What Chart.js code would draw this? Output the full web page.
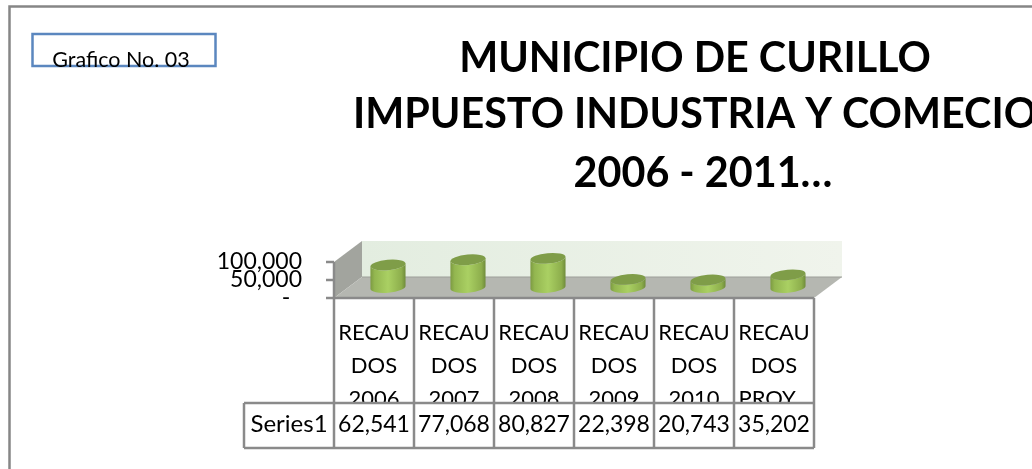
<!DOCTYPE html>
<html><head><meta charset="utf-8">
<style>html,body{margin:0;padding:0;background:#fff}#w{width:1032px;height:469px;position:relative}</style>
<script src="https://cdn.jsdelivr.net/npm/chart.js@4"></script></head>
<body><div id="w"><canvas id="c" width="1032" height="469"></canvas></div>
<script>
const categories=[["RECAU","DOS","2006"],["RECAU","DOS","2007"],["RECAU","DOS","2008"],["RECAU","DOS","2009"],["RECAU","DOS","2010"],["RECAU","DOS","PROY..."]];
const seriesName="Series1";
const values=[62541,77068,80827,22398,20743,35202];
const titleLines=["MUNICIPIO DE CURILLO","IMPUESTO INDUSTRIA Y COMECIO","2006 - 2011…"];
const noteText="Grafico No. 03";
const FONT="Lato, Carlito, sans-serif";
const DX=28,DY=21,GREY="#8a8a8a";

const scene={id:'scene',
 beforeDatasetsDraw(ch){
  const {ctx,chartArea:a}=ch;
  ctx.save();
  let g=ctx.createLinearGradient(a.left+DX,0,a.right+DX,0);
  g.addColorStop(0,'#e3ede0');g.addColorStop(1,'#f0f4ec');
  ctx.fillStyle=g;ctx.fillRect(a.left+DX,a.top-DY,a.right-a.left,a.bottom-a.top);
  ctx.fillStyle='#a2a49e';
  ctx.beginPath();ctx.moveTo(a.left,a.top);ctx.lineTo(a.left+DX,a.top-DY);ctx.lineTo(a.left+DX,a.bottom-DY);ctx.lineTo(a.left,a.bottom);ctx.fill();
  ctx.fillStyle='#b5b7b1';
  ctx.beginPath();ctx.moveTo(a.left,a.bottom);ctx.lineTo(a.left+DX,a.bottom-DY);ctx.lineTo(a.right+DX,a.bottom-DY);ctx.lineTo(a.right,a.bottom);ctx.fill();
  ctx.strokeStyle='#9d9f99';ctx.lineWidth=1;
  ctx.beginPath();ctx.moveTo(a.left+DX,a.bottom-DY);ctx.lineTo(a.right+DX,a.bottom-DY);ctx.stroke();
  ctx.restore();
 },
 beforeDatasetDraw(ch,args){
  const {ctx}=ch,TILT=-0.09,RY=5.2;
  args.meta.data.forEach(el=>{
   const cx=el.x+DX/2,top=el.y-DY/2,base=el.base-DY/2,rx=el.width/2;
   ctx.save();
   const g=ctx.createLinearGradient(cx-rx,0,cx+rx,0);
   g.addColorStop(0,'#7c9a42');g.addColorStop(.12,'#93b650');g.addColorStop(.5,'#aad063');g.addColorStop(.88,'#8dae4c');g.addColorStop(1,'#6f8b3b');
   ctx.fillStyle=g;
   ctx.beginPath();
   ctx.ellipse(cx,base,rx,RY,TILT,0,Math.PI);
   ctx.lineTo(cx-rx,top);
   ctx.ellipse(cx,top,rx,RY,TILT,Math.PI,0,true);
   ctx.closePath();ctx.fill();
   ctx.fillStyle='#7f9d48';
   ctx.beginPath();ctx.ellipse(cx,top,rx,RY,TILT,0,Math.PI*2);ctx.fill();
   ctx.restore();
  });
  return false;
 },
 afterDraw(ch){
  const {ctx,chartArea:a,scales:{x,y}}=ch;
  const rowT=403,rowB=448,left=244;
  ctx.save();
  ctx.fillStyle='#fff';ctx.fillRect(left,rowT,a.right-left,rowB-rowT);
  const half=(x.getPixelForTick(1)-x.getPixelForTick(0))/2;
  ctx.strokeStyle=GREY;ctx.lineWidth=2.5;ctx.beginPath();
  for(let i=0;i<values.length;i++){const p=x.getPixelForTick(i)-half;ctx.moveTo(p,a.bottom);ctx.lineTo(p,rowB);}
  ctx.moveTo(a.right,a.bottom);ctx.lineTo(a.right,rowB);
  ctx.moveTo(left,rowT);ctx.lineTo(a.right,rowT);
  ctx.moveTo(left,rowB);ctx.lineTo(a.right,rowB);
  ctx.moveTo(left,rowT);ctx.lineTo(left,rowB);
  y.ticks.forEach(t=>{const p=y.getPixelForValue(t.value);ctx.moveTo(a.left-8,p);ctx.lineTo(a.left,p);});
  ctx.moveTo(a.left,y.getPixelForValue(100000));ctx.lineTo(a.left,a.bottom);
  ctx.moveTo(a.left,a.bottom);ctx.lineTo(a.right,a.bottom);
  ctx.stroke();
  ctx.fillStyle='#000';ctx.textAlign='center';ctx.textBaseline='middle';
  ctx.font='24px '+FONT;
  ctx.fillText(seriesName,289,424);
  ctx.font='23px '+FONT;
  values.forEach((v,i)=>ctx.fillText(v.toLocaleString('en-US'),x.getPixelForTick(i),425));
  ctx.strokeStyle='#868686';ctx.lineWidth=2.5;ctx.beginPath();ctx.moveTo(1032,6.5);ctx.lineTo(9.5,6.5);ctx.lineTo(9.5,469);ctx.stroke();
  ctx.strokeStyle='#5b87bf';ctx.lineWidth=2.5;ctx.strokeRect(32.5,34,183,32);
  ctx.font='21.5px '+FONT;ctx.fillStyle='#000';ctx.fillText(noteText,121,60);
  ctx.font='bold 41.3px '+FONT;
  ctx.fillText(titleLines[0],695,59);ctx.fillText(titleLines[1],695,115);ctx.fillText(titleLines[2],703,174);
  ctx.restore();
 }};

new Chart(document.getElementById('c'),{
 type:'bar',
 data:{labels:categories,datasets:[{label:seriesName,data:values,backgroundColor:'#9bbb59',barPercentage:.44,categoryPercentage:1}]},
 options:{responsive:false,animation:false,
  layout:{padding:{top:262,right:218,left:0,bottom:0}},
  plugins:{legend:{display:false},title:{display:false},tooltip:{enabled:false}},
  scales:{
   x:{grid:{display:false},border:{display:false},
      afterFit(s){s.height=171;},
      ticks:{autoSkip:false,maxRotation:0,minRotation:0,color:'#000',padding:10,font:{family:FONT,size:22,lineHeight:33/22}}},
   y:{min:0,max:100000,grid:{display:false},border:{display:false},
      afterFit(s){s.width=334;},
      ticks:{autoSkip:false,stepSize:50000,color:'#000',padding:24,font:{family:FONT,size:23,lineHeight:1},
        callback(v){return v===0?'-\u00a0\u00a0':v.toLocaleString('en-US');}}}
  }},
 plugins:[scene]});
</script></body></html>
